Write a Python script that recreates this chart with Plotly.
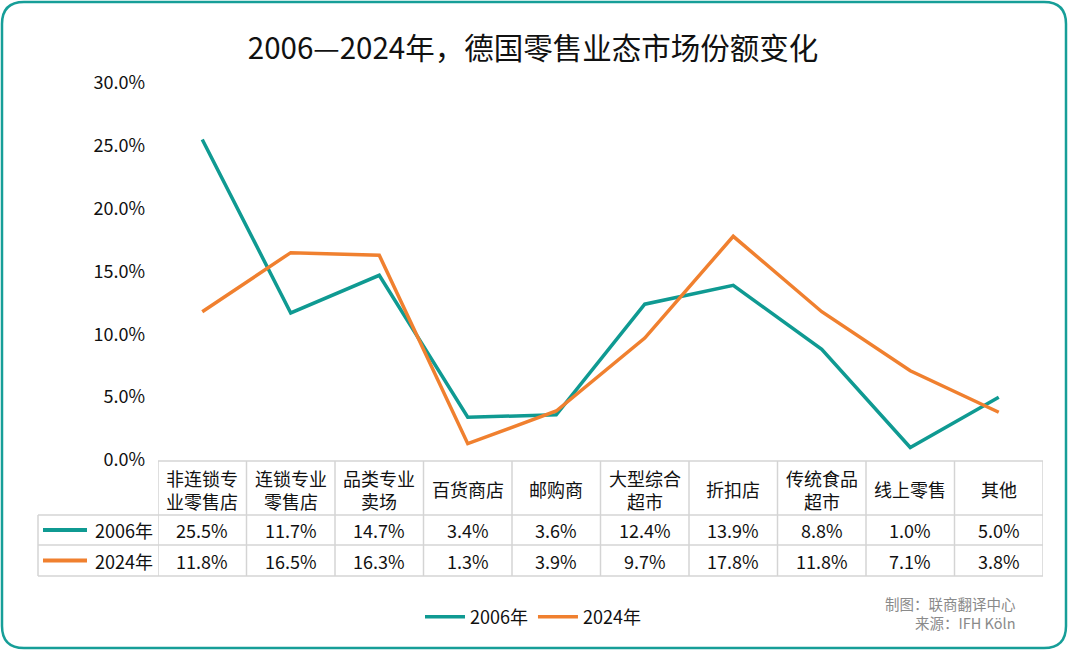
import plotly.graph_objects as go

# 数据
categories = ["非连锁专业零售店", "连锁专业零售店", "品类专业卖场", "百货商店", "邮购商",
              "大型综合超市", "折扣店", "传统食品超市", "线上零售", "其他"]
header_labels = ["非连锁专<br>业零售店", "连锁专业<br>零售店", "品类专业<br>卖场", "百货商店", "邮购商",
                 "大型综合<br>超市", "折扣店", "传统食品<br>超市", "线上零售", "其他"]
share_2006 = [25.5, 11.7, 14.7, 3.4, 3.6, 12.4, 13.9, 8.8, 1.0, 5.0]
share_2024 = [11.8, 16.5, 16.3, 1.3, 3.9, 9.7, 17.8, 11.8, 7.1, 3.8]
series_names = ["2006年", "2024年"]
y_ticks = [0, 5, 10, 15, 20, 25, 30]

TEAL = "#0f9a92"
ORANGE = "#f0802f"
GRID = "#d4d4d4"
FONT = "Noto Sans CJK SC"

W_PX, H_PX = 1069, 651
L, R, T, B = 158, 1043, 83, 460  # plot area in pixels


def px(x):
    return (x - L) / (R - L)


def py(y):
    return (B - y) / (B - T)


fig = go.Figure()
xs = list(range(len(categories)))
for name, vals, col in [(series_names[0], share_2006, TEAL), (series_names[1], share_2024, ORANGE)]:
    fig.add_trace(go.Scatter(
        x=xs, y=vals, name=name, mode="lines",
        line=dict(color=col, width=3.5),
        hovertemplate="%{text}<br>" + name + "：%{y:.1f}%<extra></extra>",
        text=categories,
    ))

shapes = []
annotations = []

# 表格线
table_top, row1_top, row2_top, table_bot = 461, 515, 545, 576
label_left = 38
shapes.append(dict(type="line", xref="paper", yref="paper", x0=px(L), x1=px(R),
                   y0=py(table_top), y1=py(table_top), line=dict(color=GRID, width=1.5)))
for yy in [row1_top, row2_top, table_bot]:
    shapes.append(dict(type="line", xref="paper", yref="paper", x0=px(label_left), x1=px(R),
                       y0=py(yy), y1=py(yy), line=dict(color=GRID, width=1.5)))
for i in range(len(categories) + 1):
    shapes.append(dict(type="line", xref="x", yref="paper", x0=i - 0.5, x1=i - 0.5,
                       y0=py(table_top), y1=py(table_bot), line=dict(color=GRID, width=1.5)))
shapes.append(dict(type="line", xref="paper", yref="paper", x0=px(label_left), x1=px(label_left),
                   y0=py(row1_top), y1=py(table_bot), line=dict(color=GRID, width=1.5)))

# 表头与数值
for i, lab in enumerate(header_labels):
    annotations.append(dict(x=i, xref="x", y=py((table_top + row1_top) / 2 + 1), yref="paper",
                            text=lab, showarrow=False, font=dict(size=18, color="#111"),
                            yanchor="middle"))
rows = [(share_2006, (row1_top + row2_top) / 2), (share_2024, (row2_top + table_bot) / 2)]
for vals, yc in rows:
    for i, v in enumerate(vals):
        annotations.append(dict(x=i, xref="x", y=py(yc), yref="paper",
                                text=f"{v:.1f}%", showarrow=False,
                                font=dict(size=18, color="#111"), yanchor="middle"))

# 行标签
for (name, col), (_, yc) in zip([(series_names[0], TEAL), (series_names[1], ORANGE)], rows):
    shapes.append(dict(type="line", xref="paper", yref="paper", x0=px(43), x1=px(87),
                       y0=py(yc), y1=py(yc), line=dict(color=col, width=4)))
    annotations.append(dict(x=px(155), xref="paper", y=py(yc), yref="paper", text=name,
                            showarrow=False, xanchor="right", yanchor="middle",
                            font=dict(size=18, color="#111")))

# 来源
annotations.append(dict(x=px(1018), xref="paper", y=py(613), yref="paper",
                        text="制图：联商翻译中心<br>来源：IFH Köln", showarrow=False,
                        xanchor="right", yanchor="middle", align="right",
                        font=dict(size=14.5, color="#8a8a8a")))

# 圆角外框
r = 22
x0, x1, y0, y1 = 2, 1066, 2, 648
path = (f"M {px(x0 + r)},{py(y0)} L {px(x1 - r)},{py(y0)} Q {px(x1)},{py(y0)} {px(x1)},{py(y0 + r)} "
        f"L {px(x1)},{py(y1 - r)} Q {px(x1)},{py(y1)} {px(x1 - r)},{py(y1)} "
        f"L {px(x0 + r)},{py(y1)} Q {px(x0)},{py(y1)} {px(x0)},{py(y1 - r)} "
        f"L {px(x0)},{py(y0 + r)} Q {px(x0)},{py(y0)} {px(x0 + r)},{py(y0)} Z")
shapes.append(dict(type="path", xref="paper", yref="paper", path=path,
                   line=dict(color="#169e98", width=2.5)))

fig.update_layout(
    width=W_PX, height=H_PX,
    margin=dict(l=L, r=W_PX - R, t=T, b=H_PX - B, pad=0),
    paper_bgcolor="white", plot_bgcolor="white",
    font=dict(family=FONT, size=18, color="#111"),
    title=dict(text="2006—2024年，德国零售业态市场份额变化", x=533 / W_PX, xanchor="center",
               y=1 - 49 / H_PX, yanchor="middle", xref="container", yref="container",
               font=dict(size=29.5, color="#111")),
    xaxis=dict(range=[-0.5, len(categories) - 0.5], showticklabels=False, showgrid=False,
               zeroline=False, showline=False, fixedrange=True),
    yaxis=dict(range=[0, 30], tickvals=y_ticks, ticktext=[f"{v:.1f}%" for v in y_ticks],
               showgrid=False, zeroline=False, showline=False, ticks="",
               ticklabelstandoff=12, tickfont=dict(size=18), fixedrange=True),
    showlegend=True,
    legend=dict(orientation="h", x=px(533), xanchor="center", y=py(617), yanchor="middle",
                font=dict(size=18), itemwidth=40, traceorder="normal"),
    shapes=shapes,
    annotations=annotations,
)

fig.write_html("out.html", config={"displayModeBar": False},
               post_script="document.body.style.margin='0';")
